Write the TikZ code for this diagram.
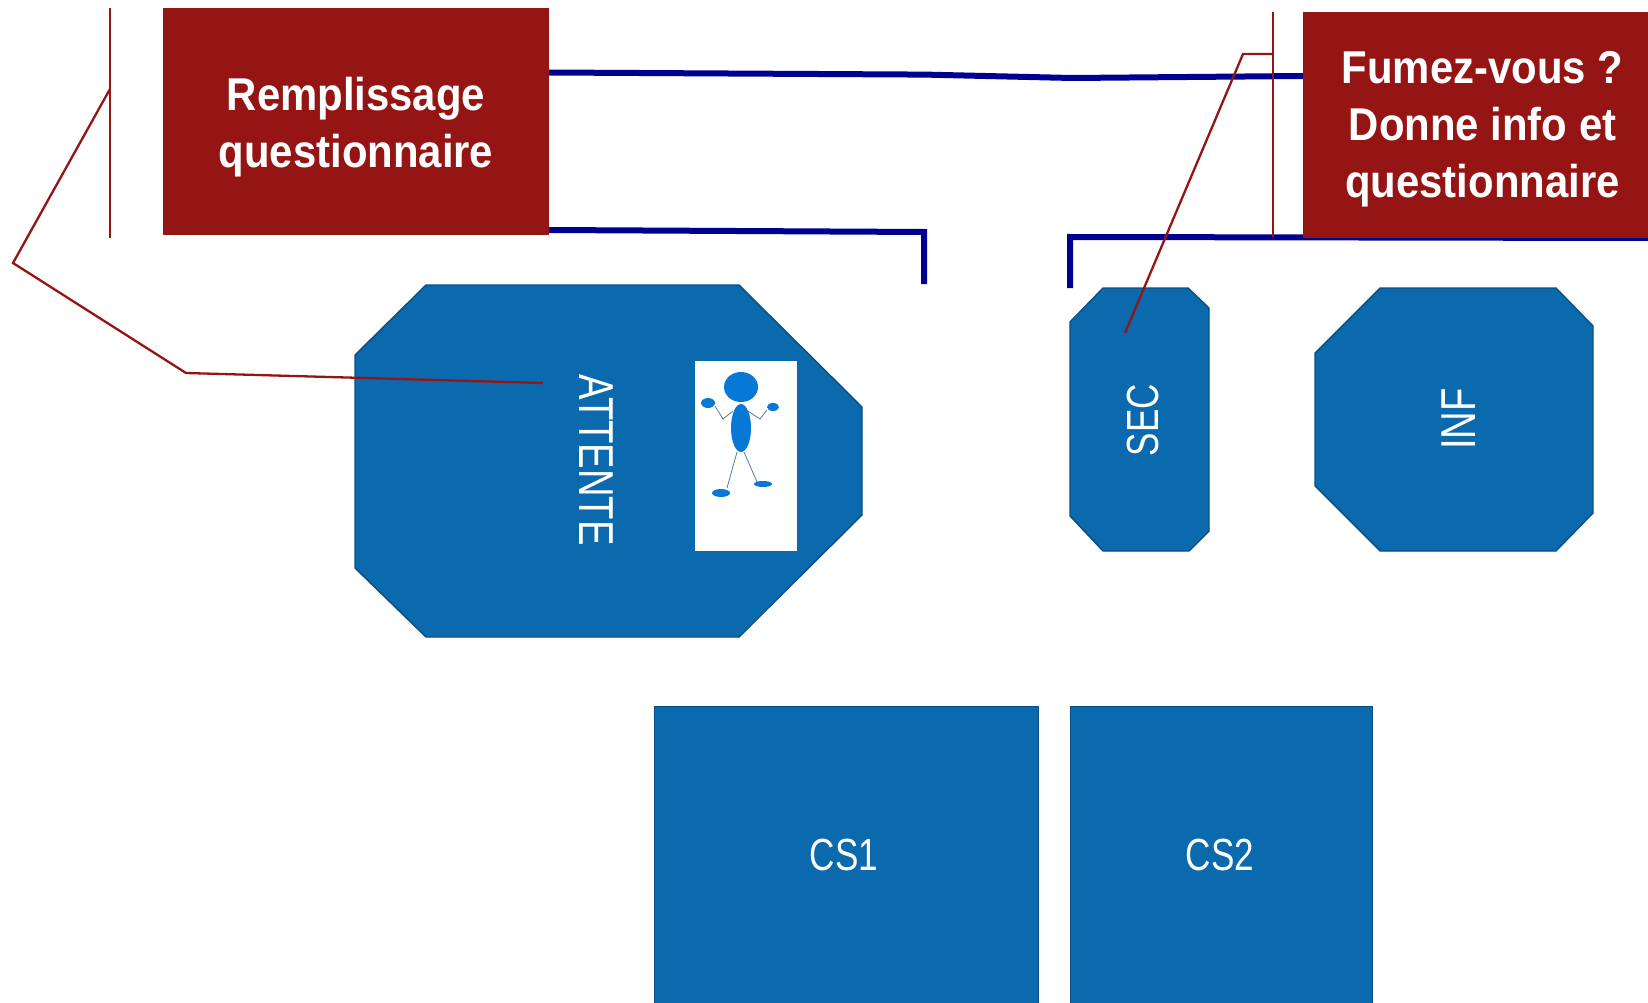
\documentclass[tikz,border=0pt]{standalone}
\usepackage{fontspec}
\usepackage{xcolor}
\usetikzlibrary{positioning}
\setmainfont[FakeStretch=0.78]{Liberation Sans}
\newfontfamily\notefont[FakeStretch=0.91]{Liberation Sans}
\definecolor{roomblue}{HTML}{0B69AD}
\definecolor{roomedge}{HTML}{0A4F80}
\definecolor{notered}{HTML}{941514}
\definecolor{wallblue}{HTML}{000090}
\definecolor{manblue}{HTML}{0778D6}

\begin{document}
\begin{tikzpicture}[
  x=1pt, y=-1pt,
  notebox/.style={fill=notered, inner sep=0pt},
  notelabel/.style={text=white, inner sep=0pt, align=center, font=\fontsize{46}{57}\selectfont\notefont\bfseries},
  room/.style={draw=roomedge, fill=roomblue, line width=1.4pt},
  roomlabel/.style={text=white, inner sep=0pt, font=\fontsize{45}{50}\selectfont},
  biglabel/.style={roomlabel, font=\fontsize{49}{50}\selectfont},
  wall/.style={draw=wallblue, line width=6pt},
  leader/.style={draw=notered, line width=2.3pt},
  limb/.style={draw=manblue!60!black!70, line width=0.8pt},
  part/.style={fill=manblue}
]
\useasboundingbox (0,0) rectangle (1648,1003);
\clip (0,0) rectangle (1648,1003);

% rooms
\draw[room] (426,285) -- (739,285) -- (862,407) -- (862,515) -- (739,637) -- (426,637) -- (355,568) -- (355,355) -- cycle;
\draw[room] (1103,288) -- (1188,288) -- (1209,308) -- (1209,531) -- (1189,551) -- (1103,551) -- (1070,516) -- (1070,322) -- cycle;
\draw[room] (1380,288) -- (1556,288) -- (1593,326) -- (1593,513) -- (1556,551) -- (1380,551) -- (1315,486) -- (1315,353) -- cycle;
\node[room, minimum width=384pt, minimum height=340pt, inner sep=0pt, anchor=north west] (cs1) at (654,706) {};
\node[room, minimum width=302pt, minimum height=340pt, inner sep=0pt, anchor=north west] (cs2) at (1070,706) {};

\node[biglabel, rotate=-90] (attente) at (596,460) {ATTENTE};
\node[roomlabel, rotate=90] (sec) at (1143,420) {SEC};
\node[biglabel, rotate=90] (inf) at (1459,419) {INF};
\node[roomlabel] (cs1txt) at (844,855) {CS1};
\node[roomlabel] (cs2txt) at (1220,855) {CS2};

% little man
\node[fill=white, minimum width=102pt, minimum height=190pt, inner sep=0pt, anchor=north west] (manbg) at (695,361) {};
\draw[limb] (715,406) -- (723,419) -- (733,411);
\draw[limb] (748,411) -- (760,419) -- (767,410);
\draw[limb] (737,452) -- (727,488);
\draw[limb] (744,452) -- (757,482);
\fill[part] (741,387) ellipse (17pt and 15pt);
\fill[part] (741,428) ellipse (10pt and 24pt);
\fill[part] (708,403) ellipse (7pt and 5pt);
\fill[part] (773,407) ellipse (6pt and 4pt);
\fill[part] (721,493) ellipse (9pt and 4pt);
\fill[part] (763,484) ellipse (9pt and 3pt);

% corridor walls
\coordinate (w1) at (925,74.6);
\coordinate (w2) at (1072,78);
\coordinate (w3) at (924,232);
\coordinate (w4) at (924,284);
\coordinate (w5) at (1070,288);
\coordinate (w6) at (1070,237);
\coordinate (w7) at (1648,238);
\coordinate (w8) at (549,72.5);
\coordinate (w9) at (1303,76);
\coordinate (w10) at (549,230);
\draw[wall] (w8) -- (w1) -- (w2) -- (w9);
\draw[wall] (w10) -- (w3) -- (w4);
\draw[wall] (w5) -- (w6) -- (w7);

% notes
\node[notebox, minimum width=386pt, minimum height=227pt] (remp) at (356,121.5) {};
\node[notebox, minimum width=345pt, minimum height=225pt] (fumez) at (1475.5,125) {};
\node[notelabel] (remptxt) at (356,127) {Remplissage\\questionnaire};
\node[notelabel] (fumeztxt) at (1482.5,129) {Fumez-vous ?\\Donne info et\\questionnaire};

% leaders
\coordinate (l1a) at (110,8);
\coordinate (l1b) at (110,238);
\coordinate (l1c) at (110,89);
\coordinate (l1d) at (13,263);
\coordinate (l1e) at (186,373);
\coordinate (l1f) at (543,383);
\coordinate (l2a) at (1273,12);
\coordinate (l2b) at (1273,237);
\coordinate (l2c) at (1273,54);
\coordinate (l2d) at (1243,54);
\coordinate (l2e) at (1125,333);
\draw[leader] (l1a) -- (l1b);
\draw[leader] (l1c) -- (l1d) -- (l1e) -- (l1f);
\draw[leader] (l2a) -- (l2b);
\draw[leader] (l2c) -- (l2d) -- (l2e);
\end{tikzpicture}
\end{document}
